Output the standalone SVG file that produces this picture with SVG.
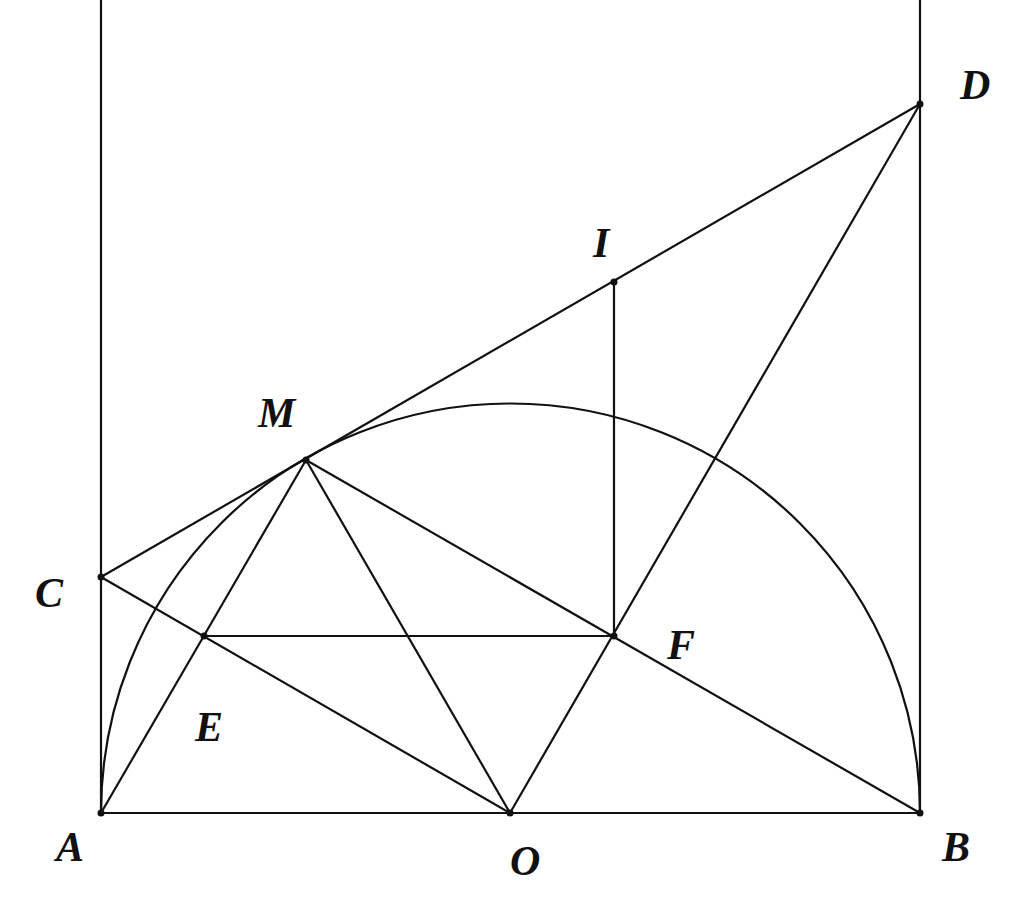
<svg xmlns="http://www.w3.org/2000/svg" width="1024" height="898" viewBox="0 0 1024 898">
<style>
.ln{stroke:#111;stroke-width:2.2;fill:none}
.pt{fill:#111}
.lb{font-family:"Liberation Serif","DejaVu Serif",serif;font-style:italic;font-weight:bold;font-size:42px;fill:#111}
</style>
<rect width="1024" height="898" fill="#fff"/>
<g id="connectors">
<line class="ln" x1="101" y1="0" x2="101" y2="813"/>
<line class="ln" x1="920" y1="0" x2="920" y2="813"/>
<line class="ln" x1="101" y1="813" x2="920" y2="813"/>
<path class="ln" d="M101,813 A409.5,409.5 0 0 1 920,813"/>
<line class="ln" x1="101" y1="577" x2="920" y2="104"/>
<line class="ln" x1="101" y1="577" x2="510" y2="813"/>
<line class="ln" x1="920" y1="104" x2="510" y2="813"/>
<line class="ln" x1="306" y1="460" x2="101" y2="813"/>
<line class="ln" x1="306" y1="460" x2="510" y2="813"/>
<line class="ln" x1="306" y1="460" x2="920" y2="813"/>
<line class="ln" x1="204" y1="636" x2="614" y2="636"/>
<line class="ln" x1="614" y1="282" x2="614" y2="636"/>
</g>
<g id="A"><circle class="pt" cx="101" cy="813" r="3.5"/><text class="lb" x="56" y="861">A</text></g>
<g id="B"><circle class="pt" cx="920" cy="813" r="3.5"/><text class="lb" x="942" y="861">B</text></g>
<g id="O"><circle class="pt" cx="510" cy="813" r="3.5"/><text class="lb" x="510" y="875">O</text></g>
<g id="C"><circle class="pt" cx="101" cy="577" r="3.5"/><text class="lb" x="35" y="607">C</text></g>
<g id="D"><circle class="pt" cx="920" cy="104" r="3.5"/><text class="lb" x="960" y="99">D</text></g>
<g id="M"><circle class="pt" cx="306" cy="460" r="3.5"/><text class="lb" x="258" y="427">M</text></g>
<g id="I"><circle class="pt" cx="614" cy="282" r="3.5"/><text class="lb" x="593" y="257">I</text></g>
<g id="F"><circle class="pt" cx="614" cy="636" r="3.5"/><text class="lb" x="667" y="659">F</text></g>
<g id="E"><circle class="pt" cx="204" cy="636" r="3.5"/><text class="lb" x="195" y="741">E</text></g>
</svg>
